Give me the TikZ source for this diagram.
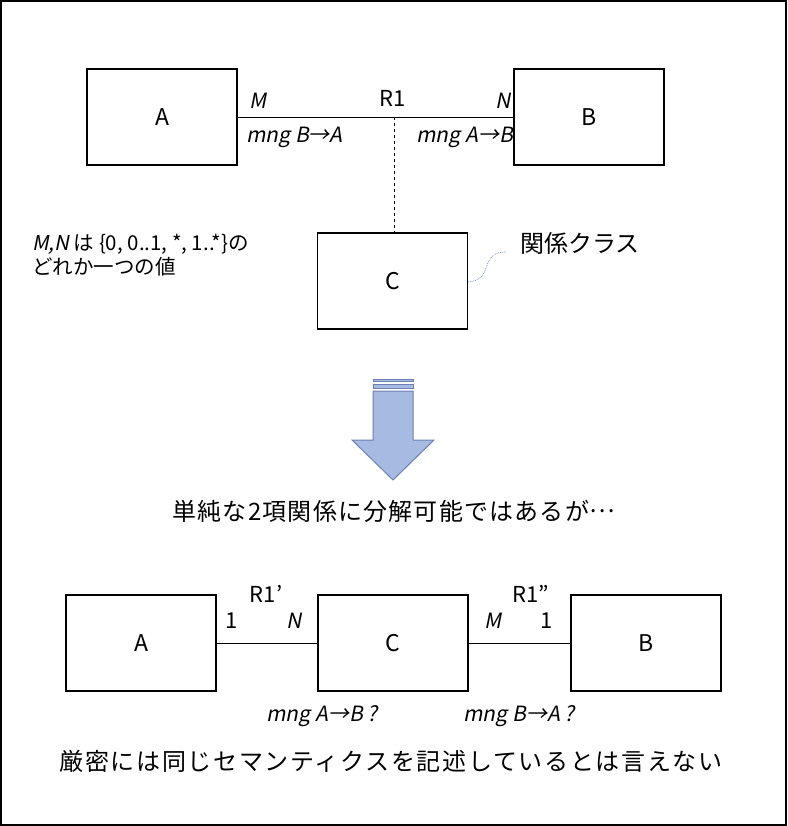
\documentclass[tikz,border=0pt]{standalone}
\usepackage{fontspec}
\setmainfont{Noto Sans CJK JP}
\newfontfamily\jpi[FakeSlant=0.2]{Noto Sans CJK JP}
\newfontfamily\jpwideA[LetterSpace=5]{Noto Sans CJK JP}
\newfontfamily\jpwideB[LetterSpace=7]{Noto Sans CJK JP}
\definecolor{arrfill}{RGB}{166,186,226}
\definecolor{arrdraw}{RGB}{108,128,180}
\definecolor{callout}{RGB}{120,150,210}
\begin{document}
\begin{tikzpicture}[x=1pt,y=-1pt,
  box/.style={draw,line width=1.5pt,minimum width=150pt,minimum height=96pt,inner sep=0pt,font=\fontsize{23}{26}\selectfont},
  lbl/.style={inner sep=0pt,font=\fontsize{22}{26}\selectfont},
  ilbl/.style={inner sep=0pt,font=\jpi\fontsize{21}{24}\selectfont},
  conn/.style={line width=0.8pt},
  arr/.style={fill=arrfill,draw=arrdraw,line width=1pt}]
\useasboundingbox (0,0) rectangle (787,826);
\draw[line width=2pt] (1,1) rectangle (786,825);
% top
\node[box] (A) at (162,117) {A};
\node[box] (B) at (589,117) {B};
\node[box] (C) at (392.5,281) {C};
\draw[conn] (A.east) -- (B.west);
\coordinate (mid) at (394,117);
\draw[conn,dashed] (mid) -- (mid |- C.north);
\node[lbl] (r1) at (393,98) {R1};
\node[ilbl,anchor=west] (m) at (249,101) {M};
\node[ilbl,anchor=east] (n) at (511,101) {N};
\node[ilbl,anchor=west] (m1) at (246,137) {mng B→A};
\node[ilbl,anchor=east] (m2) at (513,137) {mng A→B};
\node[inner sep=0pt,anchor=west,align=left,font=\fontsize{20.5}{24}\selectfont] (note) at (32,255)
  {{\jpi M,N} は \{0, 0..1, *, 1..*\}の\\どれか一つの値};
\node[inner sep=0pt,anchor=west,font=\fontsize{24}{28}\selectfont] (kc) at (520,243) {関係クラス};
\coordinate (cs) at (468,282);
\draw[densely dotted,color=callout,line width=0.8pt] (cs) .. controls (495,280) and (478,252) .. (506,252);
% arrow
\draw[arr] (373,391) -- (413,391) -- (413,440) -- (434,440) -- (393,480) -- (352,440) -- (373,440) -- cycle;
\draw[arr] (373,384) rectangle (413,388);
\draw[arr] (373,379) rectangle (413,381.5);
\node[inner sep=0pt,font=\jpwideA\fontsize{24}{28}\selectfont] (t1) at (393.5,511) {単純な2項関係に分解可能ではあるが\raisebox{0.3em}{…}};
% bottom
\node[box] (A2) at (141,643) {A};
\node[box] (C2) at (393,643) {C};
\node[box] (B2) at (646,643) {B};
\draw[conn] (A2.east) -- (C2.west);
\draw[conn] (C2.east) -- (B2.west);
\node[lbl] (r1a) at (266,594) {R1’};
\node[lbl] (r1b) at (531,594) {R1”};
\node[lbl] (one1) at (232,621) {1};
\node[ilbl] (n2) at (294,621) {N};
\node[ilbl] (m3) at (493,621) {M};
\node[lbl] (one2) at (547,621) {1};
\node[ilbl] (q1) at (322,716) {mng A→B ?};
\node[ilbl] (q2) at (519,716) {mng B→A ?};
\node[inner sep=0pt,font=\jpwideB\fontsize{24}{28}\selectfont] (t2) at (391,761) {厳密には同じセマンティクスを記述しているとは言えない};
\end{tikzpicture}
\end{document}
